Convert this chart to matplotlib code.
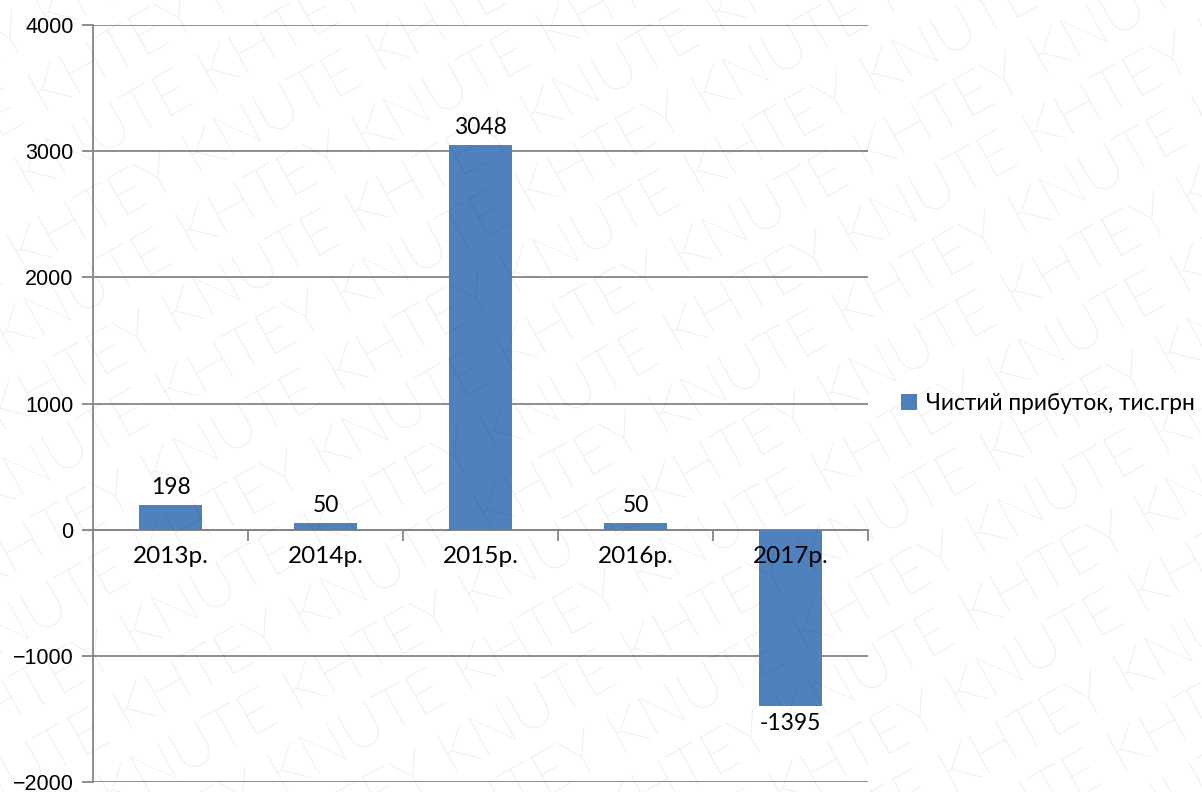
import matplotlib.pyplot as plt
import numpy as np

# Чистий прибуток підприємства за роками
years = ["2013р.", "2014р.", "2015р.", "2016р.", "2017р."]
profit = [198, 50, 3048, 50, -1395]
series_name = "Чистий прибуток, тис.грн"
y_ticks = [-2000, -1000, 0, 1000, 2000, 3000, 4000]

BAR_COLOR = "#4F81BD"
GRID_COLOR = "#868686"

W, H = 1202, 792
fig = plt.figure(figsize=(W / 100, H / 100), dpi=100)
ax = fig.add_axes([93 / W, 10 / H, 775 / W, 757 / H])

x = np.arange(1, len(years) + 1)
bars = ax.bar(x, profit, width=0.41, color=BAR_COLOR, zorder=1,
              label=series_name)

ax.set_xlim(0.5, len(years) + 0.5)
ax.set_ylim(y_ticks[0], y_ticks[-1])

# horizontal gridlines drawn by hand so they stay behind the bars,
# while tick labels (axis artists) stay on top of them
for yv in y_ticks:
    ax.axhline(yv, color=GRID_COLOR, linewidth=1.3, zorder=0)

ax.set_yticks(y_ticks)
ax.tick_params(axis="y", direction="out", length=8, width=1.3,
               color=GRID_COLOR, pad=6, labelsize=15.5)
for lbl in ax.get_yticklabels():
    lbl.set_fontfamily("Liberation Sans")

# x axis sits on zero, tick marks between categories
ax.spines["bottom"].set_position(("data", 0))
ax.spines["bottom"].set_color(GRID_COLOR)
ax.spines["bottom"].set_linewidth(1.3)
ax.spines["bottom"].set_zorder(0.5)
ax.spines["left"].set_color(GRID_COLOR)
ax.spines["left"].set_linewidth(1.3)
ax.spines["top"].set_visible(False)
ax.spines["right"].set_visible(False)
ax.set_xticks(x)
ax.set_xticklabels(years, fontfamily="Lato", fontsize=17.5)
ax.set_xticks(np.arange(0.5, len(years) + 1), minor=True)
ax.tick_params(axis="x", which="major", length=0, pad=12)
ax.tick_params(axis="x", which="minor", direction="out", length=8,
               width=1.3, color=GRID_COLOR)

ax.bar_label(bars, labels=[str(v) for v in profit], padding=5,
             fontfamily="Lato", fontsize=16.5)

ax.legend(loc="center left", bbox_to_anchor=(901 / W, 389 / H),
          bbox_transform=fig.transFigure, frameon=False,
          prop={"family": "Lato", "size": 16.3}, handlelength=0.7,
          handleheight=0.7, handletextpad=0.4, borderpad=0,
          borderaxespad=0)

# diagonal watermark, tiled from short pieces over the whole figure
wm_style = dict(fontfamily="Lato", fontweight="light", fontsize=43,
                color="black", alpha=0.1)
word = "KHTEY KNUTE "
renderer = fig.canvas.get_renderer()
probe = fig.text(0, 0, word, **wm_style)
step = probe.get_window_extent(renderer).width
probe.remove()

angle = np.deg2rad(29)
ux, uy = np.cos(angle), np.sin(angle)
row_gap = 74  # vertical distance between rows, px
for r in range(-14, 14):
    # shift along the row so neighbouring rows alternate the two words
    phase = (r % 2) * step * 0.5 + r * 12
    x0 = -380 + phase * ux
    y0 = r * row_gap + phase * uy
    for k in range(-2, 8):
        px = x0 + k * step * ux
        py = y0 + k * step * uy
        if -350 < px < W + 50 and -350 < py < H + 50:
            fig.text(px / W, py / H, word, rotation=29,
                     rotation_mode="anchor", ha="left", va="baseline",
                     zorder=10, **wm_style)

fig.savefig("out.png", dpi=100)
